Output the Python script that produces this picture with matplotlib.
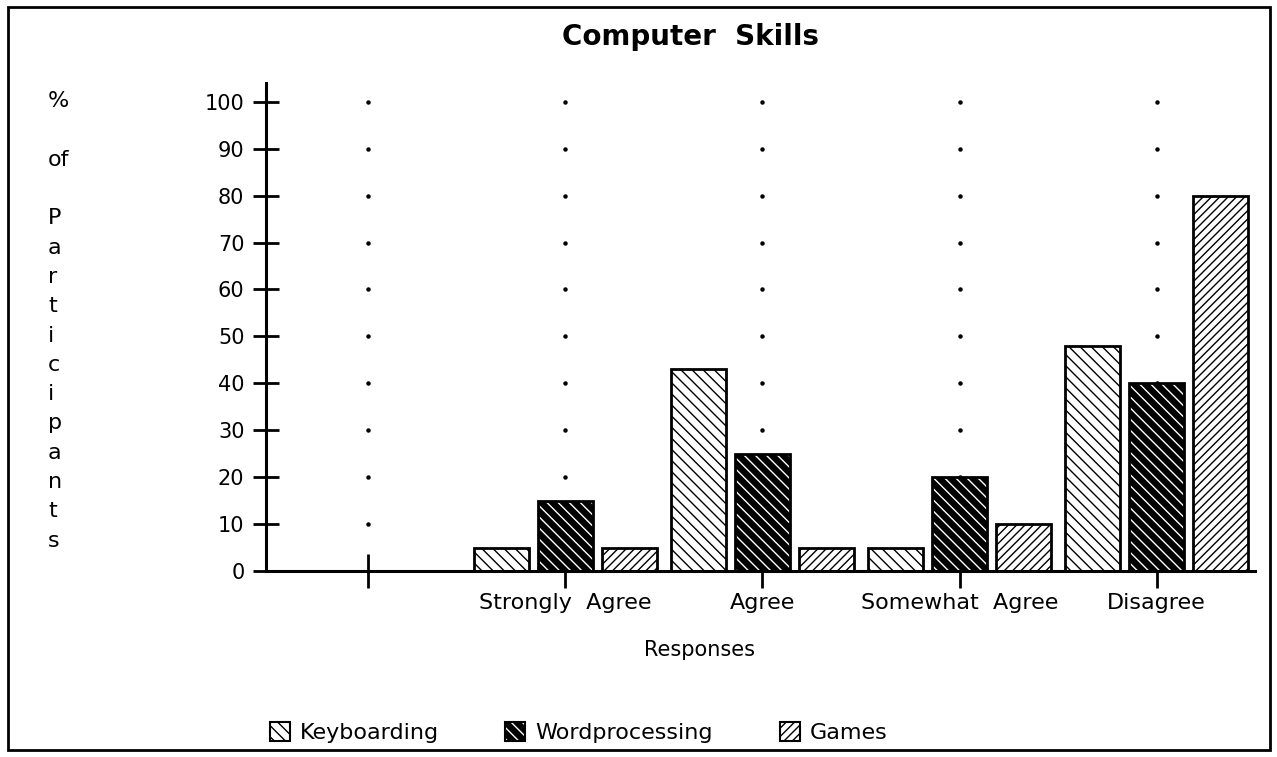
import numpy as np
import matplotlib.pyplot as plt
from matplotlib.patches import Rectangle
from matplotlib.legend_handler import HandlerTuple

plt.rcParams['font.family'] = ['DejaVu Sans']
plt.rcParams['hatch.linewidth'] = 1.0

categories = ['', 'Strongly  Agree', 'Agree', 'Somewhat  Agree', 'Disagree']
keyboarding = [0, 5, 43, 5, 48]
wordprocessing = [0, 15, 25, 20, 40]
games = [0, 5, 5, 10, 80]
series_names = ['Keyboarding', 'Wordprocessing', 'Games']
yticks = np.arange(0, 101, 10)

x = np.arange(len(categories))
w = 0.279
off = 0.325

fig = plt.figure(figsize=(12.77, 7.57), dpi=100)
ax = fig.add_axes([0.2083, 0.2457, 0.7745, 0.6447])

# dotted grid: one dot per category at every y tick
gx, gy = np.meshgrid(x, yticks[1:])
ax.plot(gx.ravel(), gy.ravel(), 'o', color='black', ms=2.2, ls='none', zorder=1)

kb = ax.bar(x - off, keyboarding, w, facecolor='white', edgecolor='black',
            hatch='\\\\\\', lw=2, zorder=2)
wp_fill = ax.bar(x, wordprocessing, w, facecolor='black', edgecolor='white',
                 hatch='\\\\\\', lw=0, zorder=2)
wp_edge = ax.bar(x, wordprocessing, w, fill=False, edgecolor='black', lw=2, zorder=3)
gm = ax.bar(x + off, games, w, facecolor='white', edgecolor='black',
            hatch='////', lw=2, zorder=2)

ax.set_xlim(-0.52, 4.5)
ax.set_ylim(0, 104)
for s in ['top', 'right']:
    ax.spines[s].set_visible(False)
for s in ['left', 'bottom']:
    ax.spines[s].set_linewidth(2.2)
    ax.spines[s].set_zorder(4)

ax.set_yticks(yticks)
ax.set_xticks(x)
ax.set_xticklabels(categories)
ax.tick_params(axis='y', direction='inout', length=19, width=2, labelsize=15, pad=6)
ax.tick_params(axis='x', direction='inout', length=24, width=2, labelsize=16, pad=4)

fig.text(0.541, 0.951, 'Computer  Skills', ha='center', va='center',
         fontsize=20, fontweight='bold')
fig.text(0.548, 0.1414, 'Responses', ha='center', va='center', fontsize=15)
fig.text(0.0376, 0.576, '%\n\nof\n\nP\na\nr\nt\ni\nc\ni\np\na\nn\nt\ns',
         ha='left', va='center', fontsize=16, linespacing=1.58)

# legend proxies
kb_h = Rectangle((0, 0), 1, 1, facecolor='white', edgecolor='black', hatch='\\\\\\', lw=1.5)
wp_h1 = Rectangle((0, 0), 1, 1, facecolor='black', edgecolor='white', hatch='\\\\\\', lw=0)
wp_h2 = Rectangle((0, 0), 1, 1, fill=False, edgecolor='black', lw=1.5)
gm_h = Rectangle((0, 0), 1, 1, facecolor='white', edgecolor='black', hatch='////', lw=1.5)

fig.legend(handles=[kb_h, (wp_h1, wp_h2), gm_h], labels=series_names,
           loc='center', bbox_to_anchor=(0.453, 0.032), ncol=3, frameon=False,
           fontsize=16, handlelength=0.9, handleheight=0.9, handletextpad=0.45,
           columnspacing=3.0, handler_map={tuple: HandlerTuple(ndivide=1)})

fig.add_artist(Rectangle((0.0063, 0.0092), 0.9882, 0.9816, transform=fig.transFigure,
                         fill=False, lw=2, ec='black'))

fig.savefig('out.png', dpi=100)
